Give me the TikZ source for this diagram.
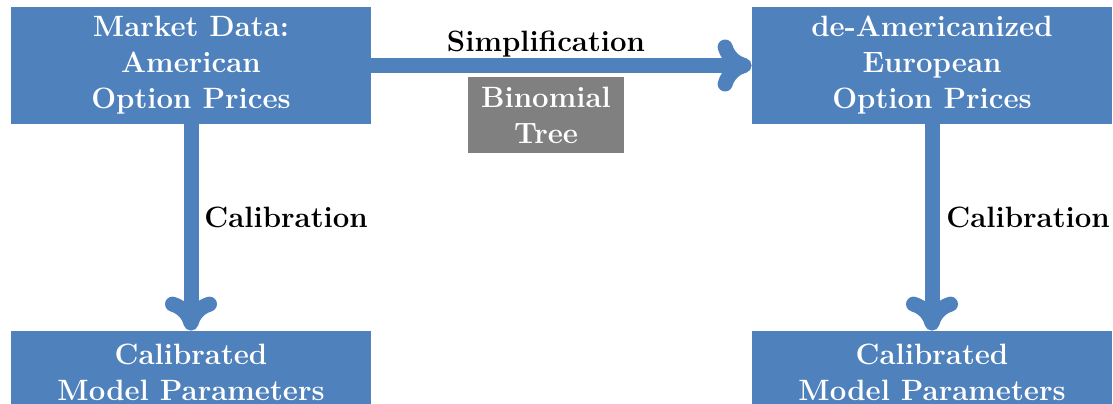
\documentclass[tikz,border=0pt]{standalone}
\usetikzlibrary{arrows.meta}
\definecolor{boxblue}{RGB}{79,129,189}
\definecolor{boxgray}{RGB}{128,128,128}
\begin{document}
\begin{tikzpicture}[x=0.5pt,y=-0.5pt,
  txt/.style={font=\fontsize{14.7}{18}\selectfont\bfseries},
  bluebox/.style={txt, fill=boxblue, text=white, align=center, minimum width=180pt, inner sep=0pt},
  graybox/.style={txt, fill=boxgray, text=white, align=center, minimum width=78pt, minimum height=38pt, inner sep=0pt},
  conn/.style={draw=boxblue, line width=7.5pt, -{Computer Modern Rightarrow[round, length=17pt, width=26pt]}}
]
\useasboundingbox (0,0) rectangle (1113,403);
\clip (0,0) rectangle (1113,403);
\node[bluebox, minimum height=58.5pt] (mkt) at (191,65.5) {Market Data:\\American\\Option Prices};
\node[bluebox, minimum height=58.5pt] (eur) at (932,65.5) {de-Americanized\\European\\Option Prices};
\node[bluebox, minimum height=41pt] (calL) at (191,372) {Calibrated\\Model Parameters};
\node[bluebox, minimum height=41pt] (calR) at (932,372) {Calibrated\\Model Parameters};
\node[graybox] (bin) at (546,115) {Binomial\\Tree};
\draw[conn] (mkt.east) -- (eur.west);
\draw[conn] (mkt.south) -- (calL.north);
\draw[conn] (eur.south) -- (calR.north);
\node[txt, anchor=base] (simp) at (546,51) {Simplification};
\node[txt, anchor=base west, inner sep=0pt] (calA) at (204,227) {Calibration};
\node[txt, anchor=base west, inner sep=0pt] (calB) at (946,227) {Calibration};
\end{tikzpicture}
\end{document}
